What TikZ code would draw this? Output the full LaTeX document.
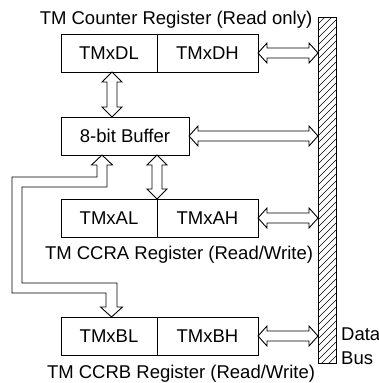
\documentclass[tikz,border=0pt]{standalone}
\usepackage{fontspec}
\setmainfont{Liberation Sans}
\usetikzlibrary{calc}
\tikzset{
  reg/.style={draw, line width=0.9pt, minimum height=38pt, inner sep=0pt, outer sep=0pt, font=\fontsize{18.5}{20}\selectfont},
  lbl/.style={inner sep=0pt, font=\fontsize{18.5}{20}\selectfont},
  arr/.style={draw, line width=0.9pt, fill=white, line join=miter},
  hatch/.style={line width=0.6pt},
}
\newcommand\hdarrow[2]{\draw[arr] (#1) -- ($(#1)+(9,-10)$) -- ($(#1)+(9,-5)$) -- ($(#2)+(-9,-5)$) -- ($(#2)+(-9,-10)$) -- (#2) -- ($(#2)+(-9,10)$) -- ($(#2)+(-9,5)$) -- ($(#1)+(9,5)$) -- ($(#1)+(9,10)$) -- cycle;}
\newcommand\vdarrow[2]{\draw[arr] (#1) -- ($(#1)+(10,10)$) -- ($(#1)+(5,10)$) -- ($(#2)+(5,-10)$) -- ($(#2)+(10,-10)$) -- (#2) -- ($(#2)+(-10,-10)$) -- ($(#2)+(-5,-10)$) -- ($(#1)+(-5,10)$) -- ($(#1)+(-10,10)$) -- cycle;}
\begin{document}
\begin{tikzpicture}[x=1pt,y=-1pt]
\useasboundingbox (0,0) rectangle (379,383);
% data bus
\node[minimum width=18pt, minimum height=346pt, inner sep=0pt, outer sep=0pt] (bus) at (327,190) {};
\begin{scope}
  \clip (bus.south west) rectangle (bus.north east);
  \foreach \i in {0,...,54} \draw[hatch] (318,{17+7*\i}) -- ++(18,-18);
\end{scope}
\draw[line width=0.9pt] (bus.south west) rectangle (bus.north east);
% registers
\node[reg, minimum width=96pt] (dl) at (109,53) {TMxDL};
\node[reg, minimum width=101pt, anchor=west] (dh) at (dl.east) {TMxDH};
\node[reg, minimum width=128pt] (buf) at (125,136) {8-bit Buffer};
\node[reg, minimum width=96pt] (al) at (109,218) {TMxAL};
\node[reg, minimum width=101pt, anchor=west] (ah) at (al.east) {TMxAH};
\node[reg, minimum width=96pt] (bl) at (109,336) {TMxBL};
\node[reg, minimum width=101pt, anchor=west] (bh) at (bl.east) {TMxBH};
% labels
\node[lbl] (t1) at (176,20) {TM Counter Register (Read only)};
\node[lbl] (t2) at (179,255) {TM CCRA Register (Read/Write)};
\node[lbl] (t3) at (181,374) {TM CCRB Register (Read/Write)};
\node[lbl, anchor=west] (data) at (341,334) {Data};
\node[lbl, anchor=west] (busl) at (341,358) {Bus};
% connectors to bus
\hdarrow{dh.east}{bus.west |- dh.east}
\hdarrow{buf.east}{bus.west |- buf.east}
\hdarrow{ah.east}{bus.west |- ah.east}
\hdarrow{bh.east}{bus.west |- bh.east}
% vertical connectors
\coordinate (c1) at (112,0);
\vdarrow{c1 |- dl.south}{c1 |- buf.north}
\coordinate (c2) at (al.north east);
\vdarrow{c2 |- buf.south}{al.north east}
% L-shaped connector buffer -> CCRB
\coordinate (tp) at (102,0);
\coordinate (bp) at (111.5,0);
\coordinate (a1) at (tp |- buf.south);
\coordinate (a2) at (bp |- bl.north);
\draw[arr] (a1) -- ($(a1)+(10.5,10)$) -- ($(a1)+(5,10)$) -- (107,187) -- (22,187) -- (22,283) -- (117,283) -- ($(a2)+(5.5,-10)$) -- ($(a2)+(11,-10)$) -- (a2) -- ($(a2)+(-11,-10)$) -- ($(a2)+(-5.5,-10)$) -- (106,293) -- (12,293) -- (12,177) -- (97,177) -- ($(a1)+(-5,10)$) -- ($(a1)+(-10.5,10)$) -- cycle;
\end{tikzpicture}
\end{document}
